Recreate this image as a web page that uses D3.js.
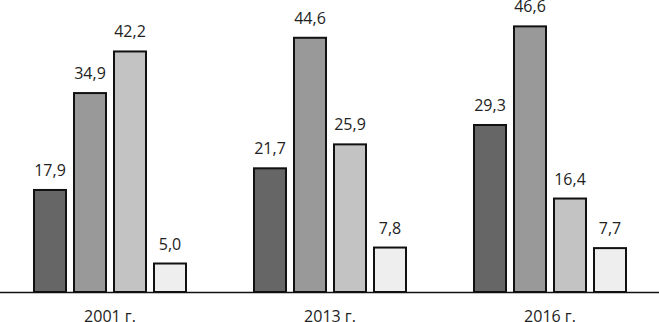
<!DOCTYPE html>
<html><head><meta charset="utf-8">
<script src="https://cdn.jsdelivr.net/npm/d3@7"></script>
<style>html,body{margin:0;padding:0;background:#fff;}svg{display:block;}</style>
</head><body>
<svg id="c" width="659" height="322"></svg>
<script>
const groups = ["2001 г.", "2013 г.", "2016 г."];
const series = ["s1", "s2", "s3", "s4"];
const values2001 = [17.9, 34.9, 42.2, 5.0];
const values2013 = [21.7, 44.6, 25.9, 7.8];
const values2016 = [29.3, 46.6, 16.4, 7.7];
const colors = ["#666666", "#999999", "#c3c3c3", "#eeeeee"];

const data = [values2001, values2013, values2016];
const svg = d3.select("#c");
const baseY = 292;
const x0 = d3.scaleBand().domain(groups).range([0, 660]).padding(0);
const x1 = d3.scaleBand().domain(series).range([30, 190]).paddingInner(0.2).paddingOuter(0.1);
const y = d3.scaleLinear().domain([0, 50]).range([baseY, 7]);
const color = d3.scaleOrdinal().domain(series).range(colors);
const fmt = v => d3.format(".1f")(v).replace(".", ",");

const g = svg.selectAll("g.grp").data(groups).join("g")
  .attr("class", "grp")
  .attr("transform", d => `translate(${x0(d)},0)`);

g.selectAll("rect").data((d, i) => data[i].map((v, j) => ({k: series[j], v})))
  .join("rect")
  .attr("x", d => x1(d.k))
  .attr("y", d => y(d.v))
  .attr("width", x1.bandwidth())
  .attr("height", d => baseY - y(d.v))
  .attr("fill", d => color(d.k))
  .attr("stroke", "#111")
  .attr("stroke-width", 2);

g.selectAll("text.val").data((d, i) => data[i].map((v, j) => ({k: series[j], v})))
  .join("text")
  .attr("class", "val")
  .attr("x", d => x1(d.k) + x1.bandwidth() / 2)
  .attr("y", d => y(d.v) - 14)
  .attr("text-anchor", "middle")
  .attr("font-family", "Open Sans, sans-serif")
  .attr("font-size", 16)
  .attr("fill", "#222")
  .text(d => fmt(d.v));

const axis = d3.axisBottom(x0).tickSize(0).tickPadding(0);
const ax = svg.append("g").attr("transform", `translate(0,${baseY})`).call(axis);
ax.select(".domain").attr("d", "M0,0.5H659").attr("stroke", "#111").attr("stroke-width", 1.5);
ax.selectAll(".tick text")
  .attr("dy", null).attr("y", 30)
  .attr("font-family", "Open Sans, sans-serif")
  .attr("font-size", 16)
  .attr("fill", "#222");
</script>
</body></html>
